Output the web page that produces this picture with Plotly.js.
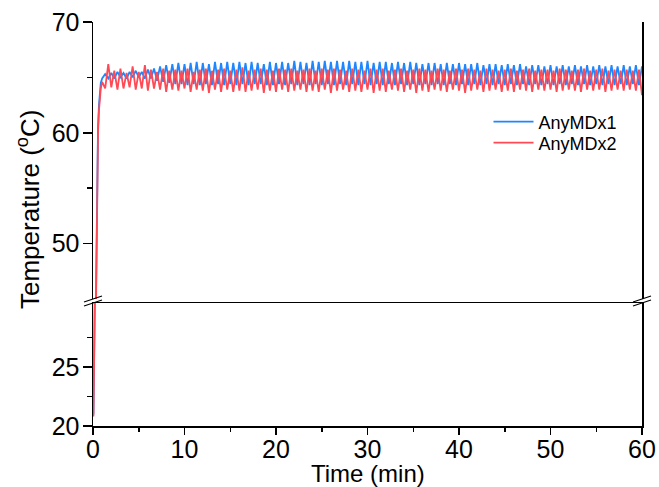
<!DOCTYPE html>
<html>
<head>
<meta charset="utf-8">
<script src="https://cdn.plot.ly/plotly-3.0.1.min.js"></script>
<style>html,body{margin:0;padding:0;background:#fff;}#chart{width:659px;height:487px;}</style>
</head>
<body>
<div id="chart"></div>
<script>
// Time (min) of each logged sample
const timeMin = [
  0.05,0.20,0.35,0.45,0.55,0.65,0.75,0.85,1.00,
  1.33,1.67,2,2.33,2.67,3,3.33,3.67,4,4.33,4.67,5,
  5.33,5.67,6,6.33,6.67,7,7.33,7.67,8,8.33,8.67,9,
  9.33,9.67,10,10.33,10.67,11,11.33,11.67,12,12.33,12.67,13,
  13.33,13.67,14,14.33,14.67,15,15.33,15.67,16,16.33,16.67,17,
  17.33,17.67,18,18.33,18.67,19,19.33,19.67,20,20.33,20.67,21,
  21.33,21.67,22,22.33,22.67,23,23.33,23.67,24,24.33,24.67,25,
  25.33,25.67,26,26.33,26.67,27,27.33,27.67,28,28.33,28.67,29,
  29.33,29.67,30,30.33,30.67,31,31.33,31.67,32,32.33,32.67,33,
  33.33,33.67,34,34.33,34.67,35,35.33,35.67,36,36.33,36.67,37,
  37.33,37.67,38,38.33,38.67,39,39.33,39.67,40,40.33,40.67,41,
  41.33,41.67,42,42.33,42.67,43,43.33,43.67,44,44.33,44.67,45,
  45.33,45.67,46,46.33,46.67,47,47.33,47.67,48,48.33,48.67,49,
  49.33,49.67,50,50.33,50.67,51,51.33,51.67,52,52.33,52.67,53,
  53.33,53.67,54,54.33,54.67,55,55.33,55.67,56,56.33,56.67,57,
  57.33,57.67,58,58.33,58.67,59,59.33,59.67,60
];

// AnyMDx1 temperature (°C)
const anyMDx1 = [
  21.0,31.0,47.0,56.0,60.5,62.5,63.8,64.5,64.9,
  65.3,64.9,65.4,64.9,65.5,65.0,65.4,64.9,65.5,65.0,65.6,65.0,
  65.5,64.9,65.7,64.9,65.8,64.7,66.0,64.6,66.1,64.5,66.2,64.4,
  66.3,64.4,66.2,64.3,66.3,64.4,66.4,64.3,66.3,64.4,66.2,64.3,
  66.4,64.4,66.3,64.3,66.4,64.4,66.3,64.3,66.4,64.4,66.3,64.3,
  66.4,64.4,66.3,64.4,66.2,64.3,66.4,64.3,66.3,64.4,66.4,64.3,
  66.3,64.4,66.5,64.3,66.4,64.4,66.3,64.3,66.5,64.4,66.4,64.3,
  66.5,64.4,66.4,64.3,66.5,64.4,66.4,64.3,66.5,64.4,66.4,64.3,
  66.4,64.4,66.5,64.3,66.3,64.4,66.4,64.3,66.4,64.4,66.3,64.3,
  66.4,64.4,66.3,64.3,66.4,64.4,66.3,64.3,66.2,64.4,66.3,64.3,
  66.3,64.4,66.2,64.3,66.3,64.4,66.2,64.3,66.3,64.4,66.2,64.3,
  66.2,64.4,66.3,64.3,66.1,64.4,66.2,64.3,66.2,64.4,66.1,64.3,
  66.2,64.4,66.1,64.3,66.2,64.4,66.0,64.3,66.1,64.4,66.1,64.3,
  66.0,64.4,66.1,64.3,66.0,64.4,66.1,64.3,66.0,64.4,66.1,64.3,
  66.0,64.4,66.1,64.3,66.0,64.4,66.1,64.3,66.0,64.4,66.1,64.3,
  66.0,64.4,66.1,64.3,66.0,64.4,66.1,64.3,66.0
];

// AnyMDx2 temperature (°C)
const anyMDx2 = [
  20.8,30.5,46.0,55.5,60.0,62.0,63.3,64.0,64.6,
  64.0,66.2,64.1,65.6,63.9,65.8,64.0,65.4,64.1,66.0,63.9,65.5,
  64.0,66.1,63.8,65.7,64.0,65.5,63.9,65.8,63.7,65.6,63.9,65.7,
  63.8,65.6,64.0,65.8,63.7,65.5,63.9,65.7,63.8,65.8,63.6,65.6,
  63.9,65.7,63.7,65.8,63.9,65.6,63.7,65.7,63.8,65.9,63.7,65.6,
  63.8,65.7,63.9,65.8,63.6,65.7,63.8,65.6,63.7,65.8,63.9,65.7,
  63.7,65.8,63.8,65.6,63.9,65.7,63.7,65.8,63.8,65.6,63.7,65.8,
  63.9,65.7,63.6,65.8,63.8,65.7,63.9,65.6,63.7,65.8,63.8,65.7,
  63.7,65.6,63.9,65.8,63.6,65.7,63.8,65.8,63.7,65.6,63.9,65.7,
  63.8,65.8,63.7,65.6,63.9,65.7,63.6,65.8,63.8,65.7,63.7,65.6,
  63.9,65.8,63.8,65.7,63.7,65.6,63.9,65.8,63.8,65.7,63.6,65.8,
  63.8,65.7,63.9,65.6,63.7,65.8,63.8,65.7,63.9,65.6,63.7,65.7,
  63.8,65.8,63.7,65.6,63.9,65.7,63.8,65.8,63.7,65.6,63.9,65.7,
  63.8,65.7,63.9,65.6,63.7,65.8,63.8,65.7,63.9,65.6,63.8,65.7,
  63.7,65.8,63.9,65.6,63.8,65.7,63.9,65.8,63.7,65.6,63.8,65.7,
  63.9,65.6,63.8,65.7,63.9,65.6,63.8,65.7,63.4
];

const seriesNames = ['AnyMDx1', 'AnyMDx2'];
const xTickVals = [0, 10, 20, 30, 40, 50, 60];
const yLowTickVals = [20, 25];
const yLowMinorVals = [22.5, 27.5];
const yHighTickVals = [50, 60, 70];
const yHighMinorVals = [55, 65];

const BLUE = '#1E86FF';
const RED = '#FF4954';
const FONT = 'Arial, "Liberation Sans", sans-serif';

function tr(y, name, color, yaxis, legendId) {
  const t = {
    x: timeMin, y: y, name: name, type: 'scatter', mode: 'lines',
    xaxis: 'x', yaxis: yaxis, showlegend: !!legendId, hoverinfo: 'skip',
    line: {color: color, width: 1.8}
  };
  if (legendId) t.legend = legendId;
  return t;
}

const data = [
  tr(anyMDx1, seriesNames[0], BLUE, 'y', null),
  tr(anyMDx1, seriesNames[0], BLUE, 'y2', 'legend'),
  tr(anyMDx2, seriesNames[1], RED, 'y', null),
  tr(anyMDx2, seriesNames[1], RED, 'y2', 'legend2')
];

const W = 549, H = 404; // plot area in px
const px = v => v / W, py = v => v / H;
const lowTop = py(123), highBot = py(127);

function breakMarks(x0) {
  const lines = [
    [x0 - px(9), py(124), x0 + px(9), py(130)],
    [x0 - px(9), py(120), x0 + px(9), py(126)]
  ];
  return lines.map(l => ({type: 'line', xref: 'paper', yref: 'paper',
    x0: l[0], y0: l[1], x1: l[2], y1: l[3], line: {color: '#000', width: 1.3}}));
}

const axisCommon = {
  showgrid: false, zeroline: false, showline: true, linecolor: '#000', linewidth: 1.5,
  ticks: 'outside', tickcolor: '#000', tickwidth: 1.5,
  tickfont: {family: FONT, size: 25, color: '#000'}, fixedrange: true
};

const legendCommon = {x: px(395.5), xanchor: 'left', yanchor: 'middle', bgcolor: 'rgba(0,0,0,0)',
  font: {family: FONT, size: 18, color: '#000'}, itemwidth: 40, borderwidth: 0};

const layout = {
  width: 659, height: 487,
  margin: {l: 93, r: 17, t: 22, b: 61, pad: 0},
  paper_bgcolor: '#fff', plot_bgcolor: '#fff',
  font: {family: FONT, color: '#000'},
  showlegend: true,
  legend: Object.assign({}, legendCommon, {y: py(304)}),
  legend2: Object.assign({}, legendCommon, {y: py(283)}),
  xaxis: Object.assign({}, axisCommon, {
    range: [0, 60], tickmode: 'array', tickvals: xTickVals, ticklen: 7, mirror: true,
    anchor: 'y', ticklabelstandoff: -7,
    minor: {dtick: 5, tick0: 0, ticklen: 4, ticks: 'outside', tickwidth: 1.5, tickcolor: '#000'}
  }),
  xaxis2: {overlaying: 'x', side: 'top', anchor: 'free', position: 1, range: [0, 60],
    showline: false, showgrid: false, zeroline: false, ticks: 'inside', ticklen: 3,
    tickwidth: 1.2, tickcolor: '#000', dtick: 5, tick0: 0, showticklabels: false, fixedrange: true},
  yaxis: Object.assign({}, axisCommon, {
    domain: [0, lowTop], range: [20, 30.45], tickmode: 'array', tickvals: yLowTickVals,
    ticklen: 9, mirror: true, anchor: 'x', ticklabelstandoff: -2,
    minor: {tickvals: yLowMinorVals, ticklen: 5, ticks: 'outside', tickwidth: 1.5, tickcolor: '#000'}
  }),
  yaxis2: Object.assign({}, axisCommon, {
    domain: [highBot, 1], range: [45, 70], tickmode: 'array', tickvals: yHighTickVals,
    ticklen: 9, mirror: true, anchor: 'x', ticklabelstandoff: -2,
    minor: {tickvals: yHighMinorVals, ticklen: 5, ticks: 'outside', tickwidth: 1.5, tickcolor: '#000'}
  }),
  yaxis3: {overlaying: 'y', side: 'right', anchor: 'x', range: [20, 30.45],
    showline: false, showgrid: false, zeroline: false, ticks: 'inside', ticklen: 4, tickwidth: 1.2,
    tickcolor: '#000', tickmode: 'array', tickvals: [20, 22.5, 25, 27.5], showticklabels: false, fixedrange: true},
  yaxis4: {overlaying: 'y2', side: 'right', anchor: 'x', range: [45, 70],
    showline: false, showgrid: false, zeroline: false, ticks: 'inside', ticklen: 4, tickwidth: 1.2,
    tickcolor: '#000', tickmode: 'array', tickvals: [50, 55, 60, 65, 70], showticklabels: false, fixedrange: true},
  shapes: breakMarks(0).concat(breakMarks(1)),
  annotations: [
    {text: 'Time (min)', xref: 'paper', yref: 'paper', x: 0.5, y: py(-47.5), xanchor: 'center', yanchor: 'middle',
      showarrow: false, font: {family: FONT, size: 24, color: '#000'}},
    {text: 'Temperature (<sup>o</sup>C)', xref: 'paper', yref: 'paper', x: px(-65), y: py(216),
      xanchor: 'center', yanchor: 'middle', textangle: -90, showarrow: false,
      font: {family: FONT, size: 26, color: '#000'}}
  ]
};

Plotly.newPlot('chart', data, layout, {staticPlot: true, displayModeBar: false});
</script>
</body>
</html>
